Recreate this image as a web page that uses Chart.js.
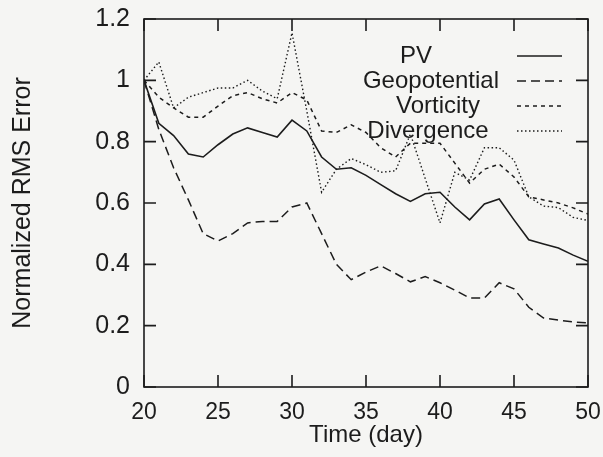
<!DOCTYPE html>
<html>
<head>
<meta charset="utf-8">
<script src="https://cdn.jsdelivr.net/npm/chart.js@4.4.0/dist/chart.umd.min.js"></script>
<style>
  body { margin: 0; background: #f5f5f3; }
  #wrap { width: 603px; height: 457px; }
</style>
</head>
<body>
<div id="wrap"><canvas id="rmsChart" width="603" height="457"></canvas></div>
<script>
// Jours (axe des x)
const days = [20, 21, 22, 23, 24, 25, 26, 27, 28, 29, 30, 31, 32, 33, 34, 35,
              36, 37, 38, 39, 40, 41, 42, 43, 44, 45, 46, 47, 48, 49, 50];

// Erreur RMS normalisée par variable
const pv = [1.0, 0.86, 0.82, 0.76, 0.75, 0.79, 0.825, 0.845, 0.83, 0.815, 0.87,
            0.835, 0.75, 0.71, 0.715, 0.69, 0.66, 0.63, 0.605, 0.63, 0.635,
            0.587, 0.545, 0.597, 0.613, 0.545, 0.48, 0.466, 0.453, 0.43, 0.41];
const geopotential = [1.0, 0.84, 0.715, 0.61, 0.50, 0.476, 0.50, 0.535, 0.54, 0.54, 0.587,
                      0.60, 0.50, 0.40, 0.35, 0.375, 0.395, 0.37, 0.343, 0.36, 0.34,
                      0.316, 0.29, 0.29, 0.34, 0.32, 0.26, 0.225, 0.218, 0.212, 0.209];
const vorticity = [1.0, 0.945, 0.91, 0.88, 0.88, 0.916, 0.95, 0.96, 0.94, 0.926, 0.96,
                   0.936, 0.835, 0.83, 0.855, 0.83, 0.78, 0.75, 0.795, 0.795, 0.795,
                   0.73, 0.665, 0.71, 0.727, 0.685, 0.62, 0.61, 0.60, 0.584, 0.564];
const divergence = [1.0, 1.06, 0.91, 0.945, 0.96, 0.975, 0.975, 1.0, 0.965, 0.94, 1.155,
                    0.90, 0.635, 0.71, 0.745, 0.725, 0.70, 0.705, 0.825, 0.68, 0.535,
                    0.70, 0.675, 0.78, 0.78, 0.74, 0.62, 0.59, 0.585, 0.553, 0.543];

// Graduations
const xTicks = [20, 25, 30, 35, 40, 45, 50];
const yTicks = [0, 0.2, 0.4, 0.6, 0.8, 1.0, 1.2];

const ink = '#1c1c1c';
Chart.defaults.font.family = "'Liberation Sans', Arial, sans-serif";
Chart.defaults.color = ink;

const toPoints = vals => days.map((d, i) => ({ x: d, y: vals[i] }));

const series = [
    { label: 'PV', data: pv, dash: [], width: 1.6 },
    { label: 'Geopotential', data: geopotential, dash: [9, 5], width: 1.5 },
    { label: 'Vorticity', data: vorticity, dash: [4, 4], width: 1.5 },
    { label: 'Divergence', data: divergence, dash: [1.5, 2.5], width: 1.4 }
];

// Fond gris clair
const background = {
    id: 'background',
    beforeDraw(chart) {
        const ctx = chart.ctx;
        ctx.save();
        ctx.fillStyle = '#f5f5f3';
        ctx.fillRect(0, 0, chart.width, chart.height);
        ctx.restore();
    }
};

// Cadre avec graduations vers l'intérieur (style gnuplot)
const frame = {
    id: 'frame',
    afterDraw(chart) {
        const { ctx, chartArea: a, scales } = chart;
        const len = 12;
        ctx.save();
        ctx.strokeStyle = ink;
        ctx.lineWidth = 1.6;
        ctx.setLineDash([]);
        ctx.strokeRect(a.left, a.top, a.right - a.left, a.bottom - a.top);
        ctx.beginPath();
        xTicks.forEach(v => {
            const px = scales.x.getPixelForValue(v);
            ctx.moveTo(px, a.bottom); ctx.lineTo(px, a.bottom - len);
            ctx.moveTo(px, a.top); ctx.lineTo(px, a.top + len);
        });
        yTicks.forEach(v => {
            const py = scales.y.getPixelForValue(v);
            ctx.moveTo(a.left, py); ctx.lineTo(a.left + len, py);
            ctx.moveTo(a.right, py); ctx.lineTo(a.right - len, py);
        });
        ctx.stroke();
        ctx.restore();
    }
};

// Légende : texte puis échantillon de trait
const keyBox = {
    id: 'keyBox',
    afterDraw(chart) {
        const ctx = chart.ctx;
        const textX = [416, 431, 438, 428];
        ctx.save();
        ctx.font = "24px 'Liberation Sans', Arial, sans-serif";
        ctx.fillStyle = ink;
        ctx.textAlign = 'center';
        ctx.textBaseline = 'middle';
        series.forEach((s, i) => {
            const y = 56 + i * 25;
            ctx.fillText(s.label, textX[i], y);
            ctx.beginPath();
            ctx.strokeStyle = ink;
            ctx.lineWidth = s.width;
            ctx.setLineDash(s.dash);
            ctx.moveTo(517, y);
            ctx.lineTo(562, y);
            ctx.stroke();
        });
        ctx.restore();
    }
};

const ctx = document.getElementById('rmsChart').getContext('2d');
const rmsChart = new Chart(ctx, {
    type: 'line',
    data: {
        datasets: series.map(s => ({
            label: s.label,
            data: toPoints(s.data),
            borderColor: ink,
            borderWidth: s.width,
            borderDash: s.dash,
            pointRadius: 0,
            tension: 0,
            fill: false
        }))
    },
    options: {
        responsive: false,
        animation: false,
        layout: { padding: { top: 19, right: 15, left: 0, bottom: 0 } },
        plugins: {
            legend: { display: false },
            tooltip: { enabled: false }
        },
        scales: {
            x: {
                type: 'linear',
                min: 20,
                max: 50,
                afterBuildTicks: scale => { scale.ticks = xTicks.map(v => ({ value: v })); },
                afterFit: scale => {
                    scale.height = 70;
                    scale.paddingLeft = 0;
                    scale.paddingRight = 0;
                },
                grid: { display: false, drawTicks: false },
                border: { display: false },
                ticks: { font: { size: 23 }, padding: 12, maxRotation: 0 },
                title: {
                    display: true,
                    text: 'Time (day)',
                    font: { size: 24 },
                    padding: { top: 0, bottom: 7 }
                }
            },
            y: {
                min: 0,
                max: 1.2,
                afterBuildTicks: scale => { scale.ticks = yTicks.map(v => ({ value: v })); },
                afterFit: scale => {
                    scale.width = 144;
                    scale.paddingTop = 0;
                    scale.paddingBottom = 0;
                },
                grid: { display: false, drawTicks: false },
                border: { display: false },
                ticks: {
                    font: { size: 25 },
                    padding: 14,
                    callback: v => String(Number(v.toFixed(1)))
                },
                title: {
                    display: true,
                    text: 'Normalized RMS Error',
                    font: { size: 25 },
                    padding: { top: 8, bottom: 0 }
                }
            }
        }
    },
    plugins: [background, frame, keyBox]
});
</script>
</body>
</html>
